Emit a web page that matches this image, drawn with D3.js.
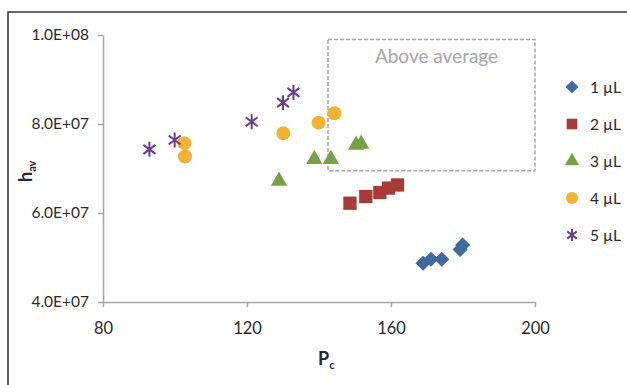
<!DOCTYPE html>
<html><head><meta charset="utf-8">
<script src="https://cdn.jsdelivr.net/npm/d3@7"></script>
<style>body{margin:0;background:#fff}svg{display:block}text{font-family:Lato,"Open Sans",sans-serif}</style>
</head><body>
<svg id="c" width="627" height="385"></svg>
<script>
const seriesNames = ["1 µL","2 µL","3 µL","4 µL","5 µL"];
const seriesColors = ["#3f6a9e","#a63b3a","#77a144","#f2b233","#6a3d8e"];
const seriesShapes = ["diamond","square","triangle","circle","asterisk"];
const s1x = [168.9,171.1,174.1,179.2,179.9];
const s1y = [4.87e7,4.96e7,4.96e7,5.18e7,5.28e7];
const s2x = [148.6,153.0,156.9,159.3,161.8];
const s2y = [6.22e7,6.37e7,6.46e7,6.56e7,6.63e7];
const s3x = [128.9,138.7,143.3,150.3,151.7];
const s3y = [6.72e7,7.21e7,7.21e7,7.53e7,7.55e7];
const s4x = [102.6,102.8,130.1,139.9,144.3];
const s4y = [7.57e7,7.27e7,7.79e7,8.03e7,8.24e7];
const s5x = [92.9,99.9,121.3,130.0,132.9];
const s5y = [7.43e7,7.64e7,8.05e7,8.48e7,8.71e7];
const xTicks = [80,120,160,200];
const yTicks = [4e7,6e7,8e7,1e8];
const yTickLabels = ["4.0E+07","6.0E+07","8.0E+07","1.0E+08"];
const boxX = [142.5,200];
const boxY = [6.95e7,9.9e7];
const boxLabel = "Above average";

const svg = d3.select("#c");
const x = d3.scaleLinear().domain([80,200]).range([103,535]);
const y = d3.scaleLinear().domain([4e7,1e8]).range([302,35]);

svg.append("path").attr("d","M8,385V12H627").attr("fill","none").attr("stroke","#3a3a3a").attr("stroke-width",1.6);

const axisColor = "#a6a6a6";
const gx = svg.append("g").attr("transform","translate(0,302)")
  .call(d3.axisBottom(x).tickValues(xTicks).tickSize(5).tickSizeOuter(0).tickFormat(d3.format("d")));
const gy = svg.append("g").attr("transform","translate(103,0)")
  .call(d3.axisLeft(y).tickValues(yTicks).tickSize(5).tickSizeOuter(0).tickFormat((d,i)=>yTickLabels[i]));
[gx,gy].forEach(g=>{
  g.selectAll("path,line").attr("stroke",axisColor).attr("stroke-width",1.5);
  g.selectAll("text").attr("fill","#2a2a2a").attr("font-size",15.5);
});
gx.selectAll("text").attr("dy","1.45em").attr("font-size",16.5);
gy.selectAll("text").attr("dx","-6");

svg.append("rect").attr("x",x(boxX[0])).attr("y",y(boxY[1]))
  .attr("width",x(boxX[1])-x(boxX[0])).attr("height",y(boxY[0])-y(boxY[1]))
  .attr("fill","none").attr("stroke","#a6a6a6").attr("stroke-width",1.5).attr("stroke-dasharray","4,2");
svg.append("text").attr("x",(x(boxX[0])+x(boxX[1]))/2+5).attr("y",63).attr("text-anchor","middle")
  .attr("fill","#a6a6a6").attr("font-size",19).text(boxLabel);

function marker(g, shape, color, s){
  if(shape==="asterisk"){
    const r=s/2;
    g.append("path").attr("d",`M0,${-r}V${r}M${-r*0.8},${-r*0.6}L${r*0.8},${r*0.6}M${-r*0.8},${r*0.6}L${r*0.8},${-r*0.6}`)
     .attr("stroke",color).attr("stroke-width",2).attr("fill","none");
  } else {
    const types={diamond:d3.symbolDiamond2,square:d3.symbolSquare2,triangle:d3.symbolTriangle2,circle:d3.symbolCircle};
    let area = s*s;
    if(shape==="diamond") area = s*s*0.65;
    if(shape==="triangle") area = s*s*0.75;
    if(shape==="circle") area = Math.PI*s*s/4;
    g.append("path").attr("d",d3.symbol().type(types[shape]).size(area)()).attr("fill",color);
  }
}
const sx=[s1x,s2x,s3x,s4x,s5x], sy=[s1y,s2y,s3y,s4y,s5y];
const sizes=[15,15,16,14,15];
sx.forEach((xs,i)=>{
  xs.forEach((v,j)=>{
    const g=svg.append("g").attr("transform",`translate(${x(v)},${y(sy[i][j])})`);
    marker(g,seriesShapes[i],seriesColors[i],sizes[i]);
  });
});

seriesNames.forEach((n,i)=>{
  const ly=87+i*37;
  const g=svg.append("g").attr("transform",`translate(572,${ly})`);
  marker(g,seriesShapes[i],seriesColors[i],[13,12,14,12,12][i]);
  svg.append("text").attr("x",590).attr("y",ly+5.5).attr("font-size",15.5).attr("fill","#2a2a2a").text(n);
});

const xt=svg.append("text").attr("x",318).attr("y",365).attr("font-size",18).attr("font-weight","bold").attr("fill","#2a2a2a");
xt.append("tspan").text("P");
xt.append("tspan").attr("font-size",11).attr("dy",4).text("c");
const yt=svg.append("text").attr("transform","translate(32,182) rotate(-90)").attr("font-size",18).attr("font-weight","bold").attr("fill","#2a2a2a");
yt.append("tspan").text("h");
yt.append("tspan").attr("font-size",11).attr("dy",4).text("av");
</script>
</body></html>
